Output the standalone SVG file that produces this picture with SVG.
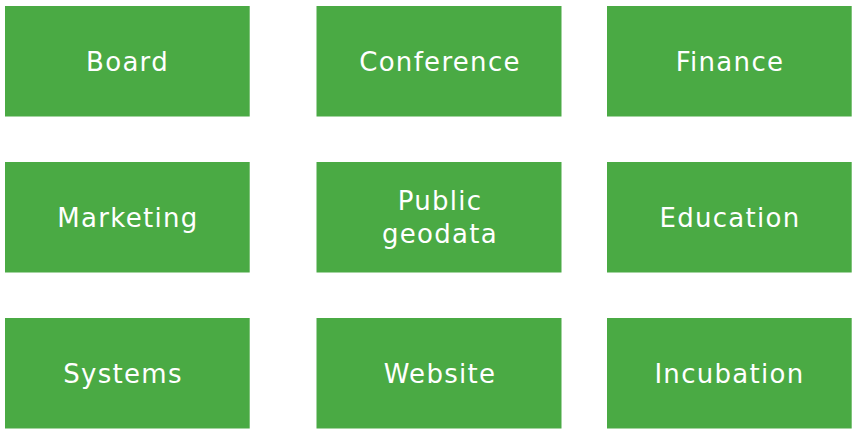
<svg xmlns="http://www.w3.org/2000/svg" width="857" height="434" viewBox="0 0 857 434">
<style>
.box{fill:#4aaa44}
.lbl{fill:#ffffff;font-family:"DejaVu Sans",sans-serif;font-size:26px;letter-spacing:1.3px;text-anchor:middle}
</style>
<rect width="857" height="434" fill="#ffffff"/>
<g id="connectors"></g>
<g id="board"><rect class="box" x="5" y="6" width="244.7" height="110.5"/><text class="lbl" x="127.5" y="70.5">Board</text></g>
<g id="conference"><rect class="box" x="316.5" y="6" width="245" height="110.5"/><text class="lbl" x="440" y="70.5">Conference</text></g>
<g id="finance"><rect class="box" x="607" y="6" width="244.7" height="110.5"/><text class="lbl" x="730" y="70.5">Finance</text></g>
<g id="marketing"><rect class="box" x="5" y="162" width="244.7" height="110.5"/><text class="lbl" x="128" y="226.5">Marketing</text></g>
<g id="public-geodata"><rect class="box" x="316.5" y="162" width="245" height="110.5"/><text class="lbl" x="440" y="210">Public</text><text class="lbl" x="440" y="243">geodata</text></g>
<g id="education"><rect class="box" x="607" y="162" width="244.7" height="110.5"/><text class="lbl" x="730" y="226.5">Education</text></g>
<g id="systems"><rect class="box" x="5" y="318" width="244.7" height="110.5"/><text class="lbl" x="123" y="382.5">Systems</text></g>
<g id="website"><rect class="box" x="316.5" y="318" width="245" height="110.5"/><text class="lbl" x="440" y="382.5">Website</text></g>
<g id="incubation"><rect class="box" x="607" y="318" width="244.7" height="110.5"/><text class="lbl" x="729.5" y="382.5">Incubation</text></g>
</svg>
